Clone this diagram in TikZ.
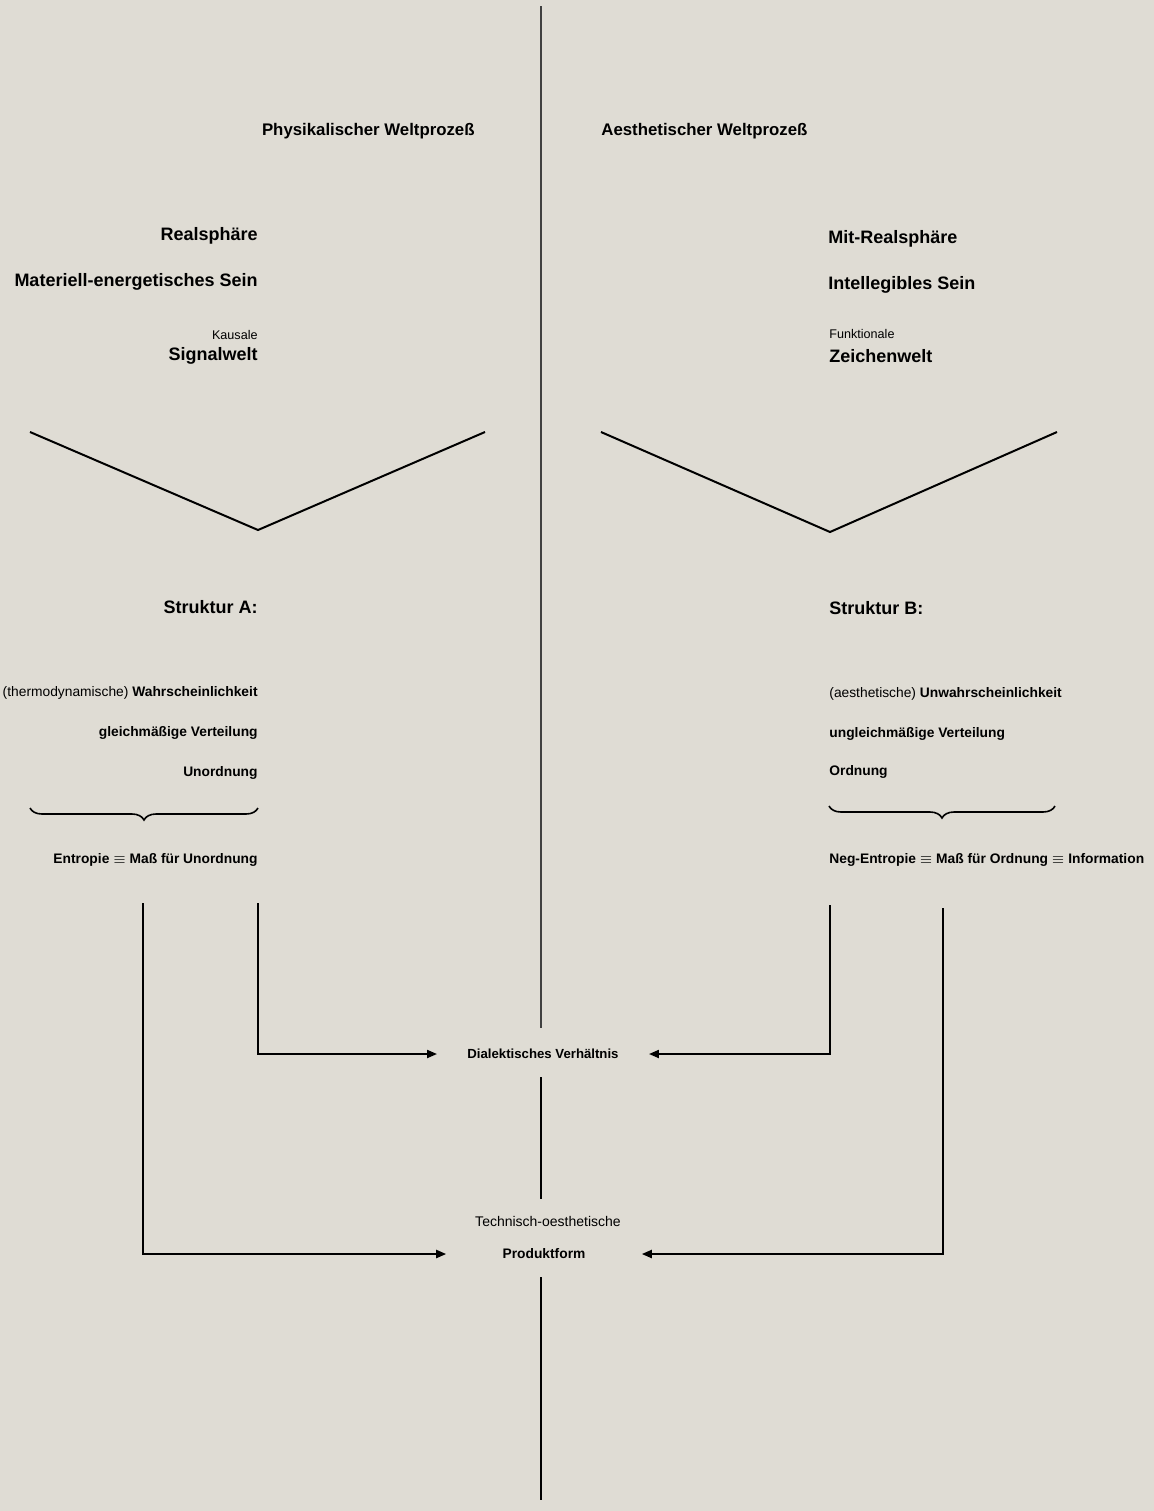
\documentclass[tikz,border=0pt]{standalone}
\usepackage{fontspec}
\setmainfont{Liberation Sans}
\usetikzlibrary{arrows.meta,decorations.pathreplacing}
\definecolor{paper}{RGB}{223,220,212}
\tikzstyle{head}=[font=\bfseries\fontsize{9}{10}\selectfont,inner sep=0pt]
\tikzstyle{title}=[font=\bfseries\fontsize{8.4}{10}\selectfont,inner sep=0pt]
\tikzstyle{small}=[font=\bfseries\fontsize{6.9}{8}\selectfont,inner sep=0pt]
\tikzstyle{thin}=[font=\fontsize{6.3}{8}\selectfont,inner sep=0pt]
\tikzstyle{line}=[line width=1pt]
\tikzstyle{link}=[line width=1pt,-{Triangle[length=5pt,width=4pt]}]

\begin{document}
\begin{tikzpicture}[x=0.5pt,y=-0.5pt]
\fill[paper] (0, 0) rectangle (1154, 1511);
\useasboundingbox (0, 0) rectangle (1154, 1511);
% left column
\node[title,anchor=east] at (475, 131) (phys) {Physikalischer Weltprozeß};
\node[head,anchor=east] at (258, 236) (real) {Realsphäre};
\node[head,anchor=east] at (258, 282) (mat) {Materiell-energetisches Sein};
\node[thin,anchor=east] at (258, 335) (kaus) {Kausale};
\node[head,anchor=east] at (258, 356) (sig) {Signalwelt};
\node[head,anchor=east] at (258, 607) (sa) {Struktur A:};
\node[small,anchor=east] at (258, 693) (wahr) {\mdseries(thermodynamische) \bfseries Wahrscheinlichkeit};
\node[small,anchor=east] at (258, 733) (gleich) {gleichmäßige Verteilung};
\node[small,anchor=east] at (258, 773) (unord) {Unordnung};
\node[small,anchor=east] at (258, 860) (entr) {Entropie $\equiv$ Maß für Unordnung};
% right column
\node[title,anchor=west] at (601, 131) (aest) {Aesthetischer Weltprozeß};
\node[head,anchor=west] at (828, 239) (mreal) {Mit-Realsphäre};
\node[head,anchor=west] at (828, 285) (intel) {Intellegibles Sein};
\node[thin,anchor=west] at (829, 334) (funk) {Funktionale};
\node[head,anchor=west] at (829, 356) (zei) {Zeichenwelt};
\node[head,anchor=west] at (829, 608) (sb) {Struktur B:};
\node[small,anchor=west] at (829, 694) (unwahr) {\mdseries(aesthetische) \bfseries Unwahrscheinlichkeit};
\node[small,anchor=west] at (829, 734) (ungleich) {ungleichmäßige Verteilung};
\node[small,anchor=west] at (829, 772) (ord) {Ordnung};
\node[small,anchor=west] at (829, 860) (neg) {Neg-Entropie $\equiv$ Maß für Ordnung $\equiv$ Information};
% middle
\node[small,font=\bfseries\fontsize{6.6}{8}\selectfont,inner xsep=15pt] at (543, 1054) (dial) {Dialektisches Verhältnis};
\node[thin,font=\fontsize{7}{8}\selectfont] at (548, 1221) (tech) {Technisch-oesthetische};
\node[small,inner xsep=28pt] at (544, 1254) (prod) {Produktform};
\coordinate (top) at (541, 6);
\coordinate (cut) at (541, 1028);
\coordinate (bot) at (541, 1500);
\coordinate (ea) at (258, 903);
\coordinate (eb) at (143, 903);
\coordinate (na) at (830, 905);
\coordinate (nb) at (943, 908);
% center line
\draw[line,black!75,line width=0.8pt] (top) -- (cut);
\draw[line,shorten <=9pt,shorten >=8pt] (dial.south -| top) -- (tech.north -| top);
\draw[line,shorten <=9pt] (prod.south -| top) -- (bot);
% the two V shapes
\draw[line] (30, 432) -- (258, 530) -- (485, 432);
\draw[line] (601, 432) -- (830, 532) -- (1057, 432);
% braces
\draw[line,line width=0.8pt,decorate,decoration={brace,mirror,amplitude=6pt}] (30, 808) -- (258, 808);
\draw[line,line width=0.8pt,decorate,decoration={brace,mirror,amplitude=6pt}] (829, 806) -- (1055, 806);
% arrows to the middle
\draw[link] (ea) |- (dial.west);
\draw[link] (eb) |- (prod.west);
\draw[link] (na) |- (dial.east);
\draw[link] (nb) |- (prod.east);
\end{tikzpicture}
\end{document}
